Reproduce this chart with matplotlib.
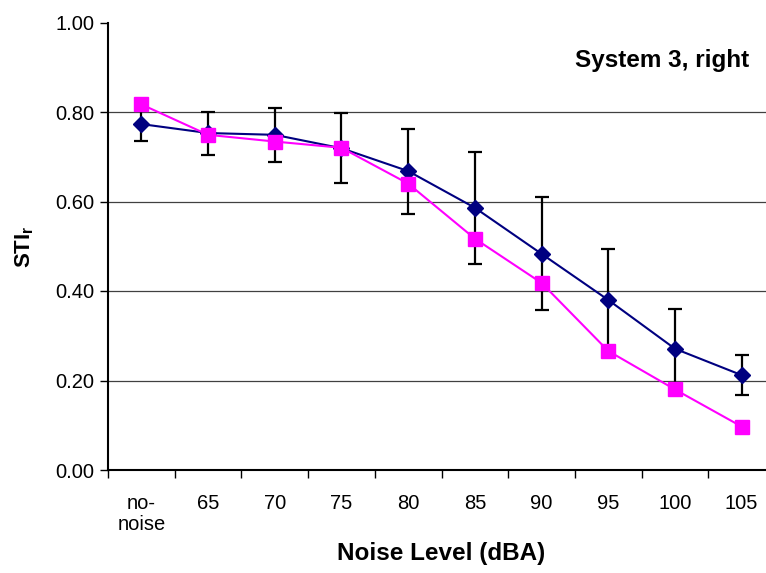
import matplotlib
matplotlib.use("Agg")
import matplotlib.pyplot as plt
import numpy as np

categories = ["no-\nnoise", "65", "70", "75", "80", "85", "90", "95", "100", "105"]
series_a = [0.773, 0.753, 0.749, 0.719, 0.668, 0.586, 0.483, 0.380, 0.271, 0.212]
series_a_err = [0.038, 0.048, 0.061, 0.078, 0.095, 0.125, 0.126, 0.114, 0.089, 0.045]
series_b = [0.817, 0.749, 0.734, 0.720, 0.640, 0.517, 0.418, 0.266, 0.180, 0.097]
y_ticks = [0.0, 0.2, 0.4, 0.6, 0.8, 1.0]

plt.rcParams['font.family'] = ['Liberation Sans', 'DejaVu Sans']
plt.rcParams['mathtext.fontset'] = 'custom'
plt.rcParams['mathtext.rm'] = 'Liberation Sans'
plt.rcParams['mathtext.bf'] = 'Liberation Sans:bold'

W, H = 766, 573
fig = plt.figure(figsize=(W/100, H/100), dpi=100)
left, right, top, bottom = 108, 775, 22.5, 470
ax = fig.add_axes([left/W, 1-bottom/H, (right-left)/W, (bottom-top)/H])

x = np.arange(len(categories))
ax.errorbar(x, series_a, yerr=series_a_err, fmt='none', ecolor='black',
            elinewidth=1.6, capsize=5.0, capthick=1.6, zorder=2)
ax.plot(x, series_a, color='#000080', marker='D', markersize=8, lw=1.5, zorder=3)
ax.plot(x, series_b, color='#FF00FF', marker='s', markersize=9.5, lw=1.5, zorder=4)

ax.set_xlim(-0.5, len(categories)-0.5)
ax.set_ylim(0, 1.0)
ax.set_yticks(y_ticks)
ax.set_yticklabels([f"{v:.2f}" for v in y_ticks], fontsize=14.5)
for v in y_ticks[1:-1]:
    ax.axhline(v, color='#404040', lw=0.9, zorder=1)

ax.set_xticks(x)
ax.set_xticklabels(categories, fontsize=14.5, va='top', linespacing=1.15)
ax.set_xticks(np.arange(-0.5, len(categories)), minor=True)
ax.tick_params(axis='x', which='major', length=0, pad=17)
ax.tick_params(axis='x', which='minor', length=6, width=1, direction='out')
ax.tick_params(axis='y', length=6, width=1, direction='out', pad=4)

for s in ['top', 'right']:
    ax.spines[s].set_visible(False)
for s in ['left', 'bottom']:
    ax.spines[s].set_linewidth(1.5)

ax.set_xlabel("Noise Level (dBA)", fontsize=17.5, fontweight='bold', labelpad=6)
ax.set_ylabel(r"$\mathbf{STI}_\mathbf{r}$", fontsize=16, labelpad=14)

ax.text(0.961, 0.916, "System 3, right", transform=ax.transAxes, fontsize=17.5,
        fontweight='bold', ha='right', va='center')

fig.savefig("out.png", dpi=100)
